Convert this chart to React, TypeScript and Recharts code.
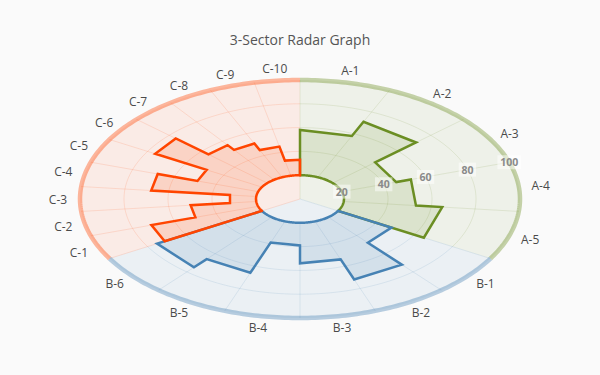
import { ScatterChart, Scatter, XAxis, YAxis } from "recharts";

const LABELS_A = ["A-1", "A-2", "A-3", "A-4", "A-5"];
const LABELS_B = ["B-1", "B-2", "B-3", "B-4", "B-5", "B-6"];
const LABELS_C = ["C-1", "C-2", "C-3", "C-4", "C-5", "C-6", "C-7", "C-8", "C-9", "C-10"];

const VALUES_A = [58, 71, 46, 53, 65];
const VALUES_B = [48, 72, 54, 39, 66, 75];
const VALUES_C = [71, 50, 32, 68, 49, 76, 56, 51, 45, 33];

const RADIAL_TICKS = [20, 40, 60, 80, 100];

const BASE = 20; // inner edge of the filled shapes
const MAX = 100;
const LABEL_R = 110;
const SPAN = 120; // each sector takes a third of the circle
const TICK_ANGLE = 18;

const SECTORS = [
  { labels: LABELS_A, values: VALUES_A, start: 90, rgb: "107,142,35" },
  { labels: LABELS_B, values: VALUES_B, start: -30, rgb: "70,130,180" },
  { labels: LABELS_C, values: VALUES_C, start: -150, rgb: "255,69,0" },
];

// chart geometry: 2.2px per unit across, ~1.2px per unit down -> the squashed circle
const W = 600;
const H = 375;
const CX = 300;
const CY = 199;
const KX = 2.2;
const KY = 1.19;
const X_DOMAIN = [-CX / KX, (W - CX) / KX];
const Y_DOMAIN = [-(H - CY) / KY, CY / KY];

type Pt = { x: number; y: number; label?: string };

function pt(r: number, deg: number): Pt {
  const a = (deg * Math.PI) / 180;
  return { x: r * Math.cos(a), y: r * Math.sin(a) };
}

function arc(r: number, from: number, to: number): Pt[] {
  const n = Math.max(2, Math.ceil(Math.abs(to - from)));
  const out: Pt[] = [];
  for (let i = 0; i <= n; i++) out.push(pt(r, from + ((to - from) * i) / n));
  return out;
}

const hidden = () => <g />;

function CategoryLabel(props: any) {
  const { cx, cy, payload } = props;
  return (
    <text
      x={cx}
      y={cy}
      textAnchor="middle"
      dominantBaseline="central"
      fontSize={12}
      fill="#4a4a4a"
      fontFamily='"Open Sans", sans-serif'
    >
      {payload.label}
    </text>
  );
}

function RadialTick(props: any) {
  const { cx, cy, payload } = props;
  const w = String(payload.label).length * 6.2 + 5;
  return (
    <g>
      <rect x={cx - w / 2} y={cy - 7} width={w} height={14} fill="rgba(255,255,255,0.5)" />
      <text
        x={cx}
        y={cy}
        textAnchor="middle"
        dominantBaseline="central"
        fontSize={10.5}
        fontWeight="bold"
        fill="#8a8a8a"
        fontFamily='"Open Sans", sans-serif'
      >
        {payload.label}
      </text>
    </g>
  );
}

export default function App() {
  const backgrounds = SECTORS.map((s) => ({
    rgb: s.rgb,
    points: [pt(0, s.start), ...arc(MAX, s.start, s.start - SPAN), pt(0, s.start)],
  }));

  const gridArcs: { rgb: string; points: Pt[] }[] = [];
  const gridSpokes: { rgb: string; points: Pt[] }[] = [];
  SECTORS.forEach((s) => {
    RADIAL_TICKS.filter((t) => t < MAX).forEach((t) => {
      gridArcs.push({ rgb: s.rgb, points: arc(t, s.start, s.start - SPAN) });
    });
    const step = SPAN / s.labels.length;
    gridSpokes.push({ rgb: s.rgb, points: [pt(0, s.start), pt(MAX, s.start)] });
    for (let i = 1; i < s.labels.length; i++) {
      const a = s.start - i * step;
      gridSpokes.push({ rgb: s.rgb, points: [pt(BASE, a), pt(MAX, a)] });
    }
  });

  const shapes = SECTORS.map((s) => {
    const step = SPAN / s.values.length;
    const points: Pt[] = [pt(BASE, s.start)];
    s.values.forEach((v, i) => {
      const a0 = s.start - i * step;
      points.push(pt(v, a0), pt(v, a0 - step));
    });
    points.push(pt(BASE, s.start - SPAN));
    points.push(...arc(BASE, s.start - SPAN, s.start));
    return { rgb: s.rgb, points };
  });

  const rings = SECTORS.map((s) => ({ rgb: s.rgb, points: arc(MAX, s.start, s.start - SPAN) }));

  const labels: Pt[] = [];
  SECTORS.forEach((s) => {
    const step = SPAN / s.labels.length;
    s.labels.forEach((l, i) => labels.push({ ...pt(LABEL_R, s.start - (i + 0.5) * step), label: l }));
  });

  const ticks: Pt[] = RADIAL_TICKS.map((t) => ({ ...pt(t, TICK_ANGLE), label: String(t) }));

  return (
    <div
      style={{
        position: "absolute",
        left: 0,
        top: 0,
        width: W,
        height: H,
        background: "#fafafa",
        fontFamily: '"Open Sans", sans-serif',
      }}
    >
      <div
        style={{
          position: "absolute",
          top: 30,
          width: W,
          textAlign: "center",
          fontSize: 14,
          color: "#555",
          lineHeight: "20px",
        }}
      >
        3-Sector Radar Graph
      </div>
      <ScatterChart width={W} height={H} margin={{ top: 0, right: 0, bottom: 0, left: 0 }}>
        <XAxis type="number" dataKey="x" domain={X_DOMAIN} allowDataOverflow hide />
        <YAxis type="number" dataKey="y" domain={Y_DOMAIN} allowDataOverflow hide />

        {backgrounds.map((b, i) => (
          <Scatter
            key={`bg${i}`}
            data={b.points}
            shape={hidden}
            lineType="joint"
            line={{ stroke: "none", fill: `rgba(${b.rgb},0.08)` }}
            isAnimationActive={false}
          />
        ))}

        {gridArcs.map((g, i) => (
          <Scatter
            key={`ga${i}`}
            data={g.points}
            shape={hidden}
            lineType="joint"
            line={{ stroke: `rgba(${g.rgb},0.13)`, strokeWidth: 1, fill: "none" }}
            isAnimationActive={false}
          />
        ))}
        {gridSpokes.map((g, i) => (
          <Scatter
            key={`gs${i}`}
            data={g.points}
            shape={hidden}
            lineType="joint"
            line={{ stroke: `rgba(${g.rgb},0.13)`, strokeWidth: 1, fill: "none" }}
            isAnimationActive={false}
          />
        ))}

        {shapes.map((s, i) => (
          <Scatter
            key={`sh${i}`}
            data={s.points}
            shape={hidden}
            lineType="joint"
            line={{
              stroke: `rgb(${s.rgb})`,
              strokeWidth: 2.5,
              fill: `rgba(${s.rgb},0.14)`,
              strokeLinejoin: "miter",
              strokeLinecap: "round",
            }}
            isAnimationActive={false}
          />
        ))}

        {rings.map((r, i) => (
          <Scatter
            key={`rg${i}`}
            data={r.points}
            shape={hidden}
            lineType="joint"
            line={{ stroke: `rgba(${r.rgb},0.38)`, strokeWidth: 4.5, fill: "none" }}
            isAnimationActive={false}
          />
        ))}

        <Scatter data={labels} shape={CategoryLabel} isAnimationActive={false} />
        <Scatter data={ticks} shape={RadialTick} isAnimationActive={false} />
      </ScatterChart>
    </div>
  );
}
